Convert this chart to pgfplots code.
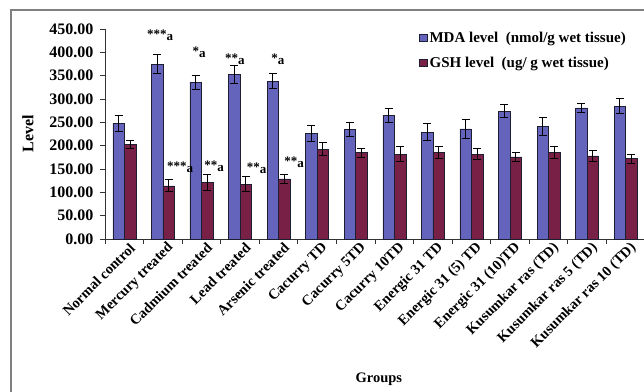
\documentclass[border=0pt]{standalone}
\usepackage{pgfplots}
\pgfplotsset{compat=1.18}
\usepackage{pgfplotstable}
\usepackage{fontspec}
\setmainfont{Liberation Serif}
\definecolor{mdacol}{RGB}{100,100,188}
\definecolor{gshcol}{RGB}{120,32,70}
\definecolor{edgecol}{RGB}{30,30,50}
\pgfplotstableread{
x mda mdaerr gsh gsherr
0 248 17 203 9
1 375 20 114 13
2 336 15 121 18
3 352 19 117 16
4 338 16 129 10
5 226 18 192 14
6 235 15 185 10
7 265 15 182 16
8 229 18 186 13
9 236 20 182 11
10 274 14 176 10
11 241 20 186 13
12 281 10 178 11
13 285 16 172 10
}\datatable
\begin{document}
\begin{tikzpicture}
\useasboundingbox (0,0) rectangle (644pt,391pt);
\clip (0,0) rectangle (644pt,391pt);
\begin{axis}[
  at={(105pt,152pt)}, anchor=south west,
  scale only axis, width=540pt, height=210pt,
  xmin=-0.5, xmax=13.5, ymin=0, ymax=450,
  axis lines*=left,
  axis line style={black!80, line width=0.8pt, -},
  ybar=0pt, bar width=11.5pt,
  xtick={0,...,13},
  xticklabels={Normal control, Mercury treated, Cadmium treated, Lead treated, Arsenic treated, Cacurry TD, Cacurry 5TD, Cacurry 10TD, Energic 31 TD, Energic 31 (5) TD, Energic 31 (10)TD, Kusumkar ras (TD), Kusumkar ras 5 (TD), Kusumkar ras 10 (TD)},
  minor xtick={-0.5,0.5,...,13.5},
  major x tick style={draw=none},
  tick align=outside, major tick length=5pt, minor tick length=5pt,
  tick style={black!80, line width=0.8pt},
  ytick={0,50,...,450},
  yticklabel style={font=\bfseries\fontsize{16}{16}\selectfont, xshift=-3pt,
    /pgf/number format/.cd, fixed, fixed zerofill, precision=2, assume math mode=true},
  xticklabel style={font=\bfseries\fontsize{14.5}{14.5}\selectfont, rotate=45, anchor=east, xshift=8pt, yshift=-7pt},
  xlabel={Groups}, ylabel={Level},
  xlabel style={font=\bfseries\fontsize{14.5}{14.5}\selectfont, at={(axis description cs:0.507,0)}, anchor=center, yshift=-140pt},
  ylabel style={font=\bfseries\fontsize{16}{16}\selectfont, at={(axis description cs:-0.1426,0.5)}, anchor=center, rotate=0},
  legend style={at={(rel axis cs:0.582,0.995)}, anchor=north west, draw=none, fill=none,
    font=\bfseries\fontsize{15}{15}\selectfont, row sep=9pt, inner sep=0pt},
  legend cell align=left,
  legend image code/.code={\draw[#1, line width=0.6pt] (0pt,-3.5pt) rectangle (7.5pt,4pt);},
  error bars/y dir=both, error bars/y explicit,
  error bars/error bar style={black, line width=1pt},
  error bars/error mark options={black, line width=1pt, rotate=90, mark size=4pt},
]
\addplot[fill=mdacol, draw=edgecol, line width=0.5pt] table[x=x, y=mda, y error=mdaerr] {\datatable};
\addplot[fill=gshcol, draw=edgecol, line width=0.5pt] table[x=x, y=gsh, y error=gsherr] {\datatable};
\legend{MDA level\ \ (nmol/g wet tissue), GSH level\ \ (ug/ g wet tissue)}
\begin{scope}[every node/.style={font=\bfseries\fontsize{13}{13}\selectfont, inner sep=0pt, anchor=center}]
\node at (axis cs:0.926,437) {***\raisebox{-2pt}{a}};
\node at (axis cs:1.94,401) {*\raisebox{-2pt}{a}};
\node at (axis cs:2.87,386) {**\raisebox{-2pt}{a}};
\node at (axis cs:3.985,386) {*\raisebox{-2pt}{a}};
\node at (axis cs:1.445,154) {***\raisebox{-2pt}{a}};
\node at (axis cs:2.33,156) {**\raisebox{-2pt}{a}};
\node at (axis cs:3.43,152) {**\raisebox{-2pt}{a}};
\node at (axis cs:4.4,165) {**\raisebox{-2pt}{a}};
\end{scope}
\end{axis}
\draw[black!50, line width=1.5pt] (11pt,-20pt) rectangle (700pt,381pt);
\end{tikzpicture}
\end{document}
